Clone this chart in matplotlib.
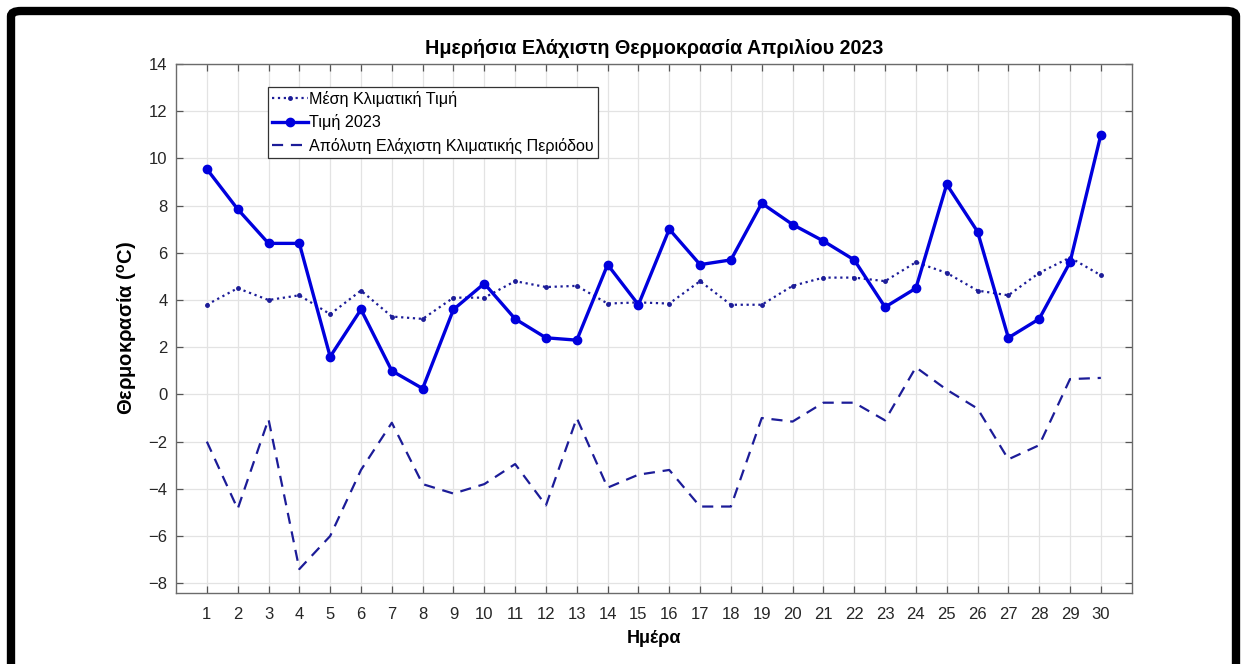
import matplotlib
matplotlib.use("Agg")
import matplotlib.pyplot as plt
from matplotlib.patches import FancyBboxPatch

plt.rcParams['font.family'] = ['Liberation Sans', 'DejaVu Sans']

# days of April
days = list(range(1, 31))

# climatological mean of daily minimum
mean_clim = [3.8, 4.5, 4.0, 4.2, 3.4, 4.4, 3.3, 3.2, 4.1, 4.1,
             4.8, 4.55, 4.6, 3.85, 3.9, 3.85, 4.8, 3.8, 3.8, 4.6,
             4.95, 4.95, 4.8, 5.6, 5.15, 4.4, 4.2, 5.15, 5.8, 5.05]

# 2023 daily minimum
tmin_2023 = [9.55, 7.85, 6.4, 6.4, 1.6, 3.6, 1.0, 0.25, 3.6, 4.7,
             3.2, 2.4, 2.3, 5.5, 3.8, 7.0, 5.5, 5.7, 8.1, 7.2,
             6.5, 5.7, 3.7, 4.5, 8.9, 6.9, 2.4, 3.2, 5.6, 11.0]

# absolute minimum of the climatological period
abs_min = [-2.0, -4.85, -1.05, -7.4, -6.0, -3.2, -1.2, -3.8, -4.2, -3.8,
           -2.95, -4.7, -1.0, -3.95, -3.4, -3.2, -4.75, -4.75, -1.0, -1.15,
           -0.35, -0.35, -1.1, 1.15, 0.2, -0.6, -2.75, -2.15, 0.65, 0.7]

labels = ['Μέση Κλιματική Τιμή', 'Τιμή 2023', 'Απόλυτη Ελάχιστη Κλιματικής Περιόδου']
yticks = list(range(-8, 15, 2))

fig = plt.figure(figsize=(12.44, 6.64), dpi=100)
ax = fig.add_axes([0.1415, 0.1074, 0.7682, 0.7962])

navy = '#1c1c98'
blue = '#0000dd'
ax.plot(days, mean_clim, linestyle=':', color=navy, linewidth=1.6,
        marker='o', markersize=2.5, label=labels[0])
ax.plot(days, tmin_2023, linestyle='-', color=blue, linewidth=2.4,
        marker='o', markersize=6, label=labels[1])
ax.plot(days, abs_min, linestyle=(0, (5, 3.5)), color=navy, linewidth=1.6,
        label=labels[2])

ax.set_xlim(0, 31)
ax.set_ylim(-8.4, 14)
ax.set_xticks(days)
ax.set_yticks(yticks)
ax.grid(True, color='#e3e3e3', linewidth=0.9)
ax.set_axisbelow(True)

# matlab like box with inward ticks
for s in ax.spines.values():
    s.set_color('#6b6b6b')
    s.set_linewidth(1.0)
ax.tick_params(direction='in', length=5, width=0.9, colors='#555555',
               top=True, right=True, labelsize=12, labelcolor='#262626')
ax.tick_params(axis='x', pad=10)
ax.tick_params(axis='y', pad=6)

ax.set_title('Ημερήσια Ελάχιστη Θερμοκρασία Απριλίου 2023',
             fontsize=14.2, fontweight='bold', pad=7)
ax.set_xlabel('Ημέρα', fontsize=13, fontweight='bold', labelpad=6)
ax.set_ylabel('Θερμοκρασία ($\\mathregular{^oC}$)', fontsize=14.5,
              fontweight='bold', labelpad=7)

leg = ax.legend(loc='upper left', bbox_to_anchor=(0.0963, 0.9565),
                fontsize=11.6, frameon=True, fancybox=False, framealpha=1,
                edgecolor='#333333', handlelength=2.2, handletextpad=0.1,
                labelspacing=0.45, borderpad=0.25, borderaxespad=0)
leg.get_frame().set_linewidth(0.9)

# black frame around the picture
border = FancyBboxPatch((11 / 1244, -0.05), (1236 - 11) / 1244, 0.05 + 1 - 11 / 664,
                        boxstyle='round,pad=0,rounding_size=0.008',
                        transform=fig.transFigure, facecolor='none',
                        edgecolor='black', linewidth=6)
fig.patches.append(border)

plt.savefig('out.png', dpi=100)
